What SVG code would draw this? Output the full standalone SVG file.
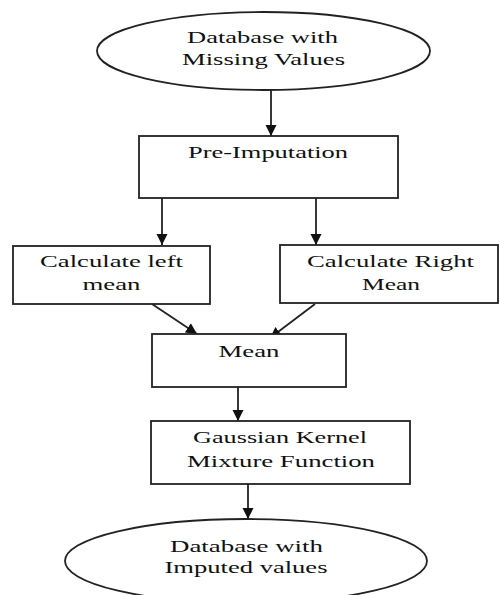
<svg xmlns="http://www.w3.org/2000/svg" width="500" height="595" viewBox="0 0 500 595">
<style>
.n{fill:#fff;stroke:#222;stroke-width:1.8}
.c{stroke:#222;stroke-width:1.8;fill:none}
</style>
<defs>
<marker id="ah" markerUnits="userSpaceOnUse" markerWidth="12" markerHeight="12" refX="11" refY="6" orient="auto">
<path d="M0,0.5 L11,6 L0,11.5 z" fill="#111"/>
</marker>
</defs>
<rect width="500" height="595" fill="#fff"/>
<g id="connectors">
<line class="c" x1="271" y1="90" x2="271" y2="136" marker-end="url(#ah)"/>
<line class="c" x1="162" y1="198" x2="162" y2="245" marker-end="url(#ah)"/>
<line class="c" x1="316" y1="198" x2="316" y2="245" marker-end="url(#ah)"/>
<line class="c" x1="152" y1="304" x2="197" y2="334" marker-end="url(#ah)"/>
<line class="c" x1="315" y1="304" x2="270" y2="338" marker-end="url(#ah)"/>
<line class="c" x1="238" y1="387" x2="238" y2="421" marker-end="url(#ah)"/>
<line class="c" x1="248" y1="484" x2="248" y2="519" marker-end="url(#ah)"/>
</g>
<g font-family="Liberation Serif, Times New Roman, serif" font-size="17" fill="#111" text-anchor="middle">
<g id="start">
<ellipse class="n" cx="263.5" cy="51" rx="166.5" ry="39"/>
<text x="262.5" y="43" textLength="151" lengthAdjust="spacingAndGlyphs">Database with</text>
<text x="263.5" y="65" textLength="163" lengthAdjust="spacingAndGlyphs">Missing Values</text>
</g>
<g id="preimputation">
<rect class="n" x="139" y="136" width="259" height="62"/>
<text x="268" y="158" textLength="160" lengthAdjust="spacingAndGlyphs">Pre-Imputation</text>
</g>
<g id="leftmean">
<rect class="n" x="13" y="246" width="197" height="58"/>
<text x="111.5" y="267" textLength="143" lengthAdjust="spacingAndGlyphs">Calculate left</text>
<text x="111.5" y="290" textLength="58" lengthAdjust="spacingAndGlyphs">mean</text>
</g>
<g id="rightmean">
<rect class="n" x="280" y="245" width="218" height="58"/>
<text x="390.5" y="267" textLength="167" lengthAdjust="spacingAndGlyphs">Calculate Right</text>
<text x="391" y="290" textLength="58" lengthAdjust="spacingAndGlyphs">Mean</text>
</g>
<g id="mean">
<rect class="n" x="152" y="334" width="194" height="53"/>
<text x="249" y="357" textLength="61" lengthAdjust="spacingAndGlyphs">Mean</text>
</g>
<g id="gaussian">
<rect class="n" x="151" y="421" width="259" height="63"/>
<text x="280" y="443" textLength="174" lengthAdjust="spacingAndGlyphs">Gaussian Kernel</text>
<text x="281" y="467" textLength="188" lengthAdjust="spacingAndGlyphs">Mixture Function</text>
</g>
<g id="end">
<ellipse class="n" cx="246" cy="561" rx="181" ry="42"/>
<text x="246.5" y="552" textLength="153" lengthAdjust="spacingAndGlyphs">Database with</text>
<text x="246" y="573" textLength="163" lengthAdjust="spacingAndGlyphs">Imputed values</text>
</g>
</g>
</svg>
